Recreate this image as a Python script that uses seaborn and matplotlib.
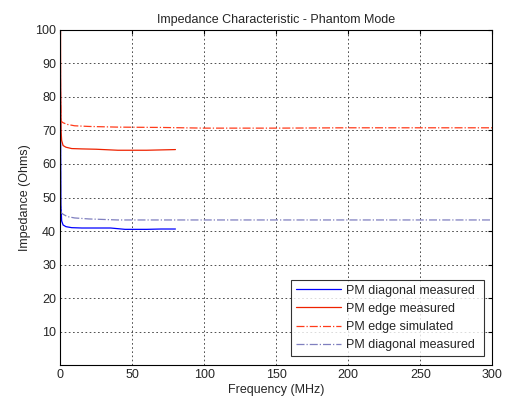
import matplotlib
matplotlib.use("Agg")
from matplotlib import pyplot as plt
import pandas as pd
import seaborn as sns

# values
freq_diag_meas = [0.0, 0.2, 0.5, 1, 2, 4, 8, 15, 25, 35, 45, 60, 70, 80]
imp_diag_meas = [110, 75, 48, 43, 41.8, 41.3, 41.0, 40.9, 40.9, 40.9, 40.5, 40.5, 40.6, 40.6]

freq_edge_meas = [0.0, 0.15, 0.3, 0.6, 1, 2, 4, 8, 15, 25, 40, 60, 80]
imp_edge_meas = [22, 110, 85, 70, 67, 65.5, 65.0, 64.6, 64.5, 64.4, 64.1, 64.1, 64.3]

freq_edge_sim = [0.0, 0.2, 0.5, 2, 5, 10, 20, 40, 70, 100, 150, 200, 250, 300]
imp_edge_sim = [110, 80, 72.8, 72.3, 71.8, 71.4, 71.2, 71.0, 70.9, 70.7, 70.7, 70.8, 70.8, 70.8]

freq_diag_sim = [0.0, 0.2, 0.5, 2, 5, 10, 20, 40, 70, 100, 150, 200, 250, 300]
imp_diag_sim = [110, 60, 45.5, 45.0, 44.3, 43.9, 43.6, 43.3, 43.3, 43.3, 43.3, 43.3, 43.3, 43.3]

sns.set_style("white")
plt.rcParams['font.family'] = ['Liberation Sans', 'DejaVu Sans']
plt.rcParams['font.size'] = 9

fig = plt.figure(figsize=(5.06, 3.99), dpi=100)
ax = fig.add_axes([0.119, 0.085, 0.854, 0.84])

series = [
    (freq_diag_meas, imp_diag_meas, "PM diagonal measured", "#0000ff", "-"),
    (freq_edge_meas, imp_edge_meas, "PM edge measured", "#ee2200", "-"),
    (freq_edge_sim, imp_edge_sim, "PM edge simulated", "#ff3b1a", "-."),
    (freq_diag_sim, imp_diag_sim, "PM diagonal measured ", "#7f7fbf", "-."),
]
for f, z, name, col, ls in series:
    df = pd.DataFrame({"Frequency": f, "Impedance": z})
    sns.lineplot(data=df, x="Frequency", y="Impedance", ax=ax, color=col,
                 linestyle=ls, linewidth=0.9, label=name, sort=False,
                 estimator=None)

ax.set_xlim(0, 300)
ax.set_ylim(0, 100)
ax.set_xticks(range(0, 301, 50))
ax.set_yticks(range(10, 101, 10))
ax.grid(True, color="#333333", linestyle=(0, (2, 3)), linewidth=0.6)
ax.tick_params(direction="in", length=3, labelsize=9, color="black",
               top=True, right=True, pad=3)
for s in ax.spines.values():
    s.set_color("black")
    s.set_linewidth(0.8)

ax.set_title("Impedance Characteristic - Phantom Mode", fontsize=9, pad=5)
ax.set_xlabel("Frequency (MHz)", fontsize=9, labelpad=2)
ax.set_ylabel("Impedance (Ohms)", fontsize=9, labelpad=3)

leg = ax.legend(loc="lower right", fontsize=9, frameon=True, fancybox=False,
                handlelength=3.6, handletextpad=0.4, borderaxespad=0.7,
                labelspacing=0.5, borderpad=0.4)
leg.get_frame().set_edgecolor("black")
leg.get_frame().set_linewidth(0.8)

fig.savefig("out.png", dpi=100)
